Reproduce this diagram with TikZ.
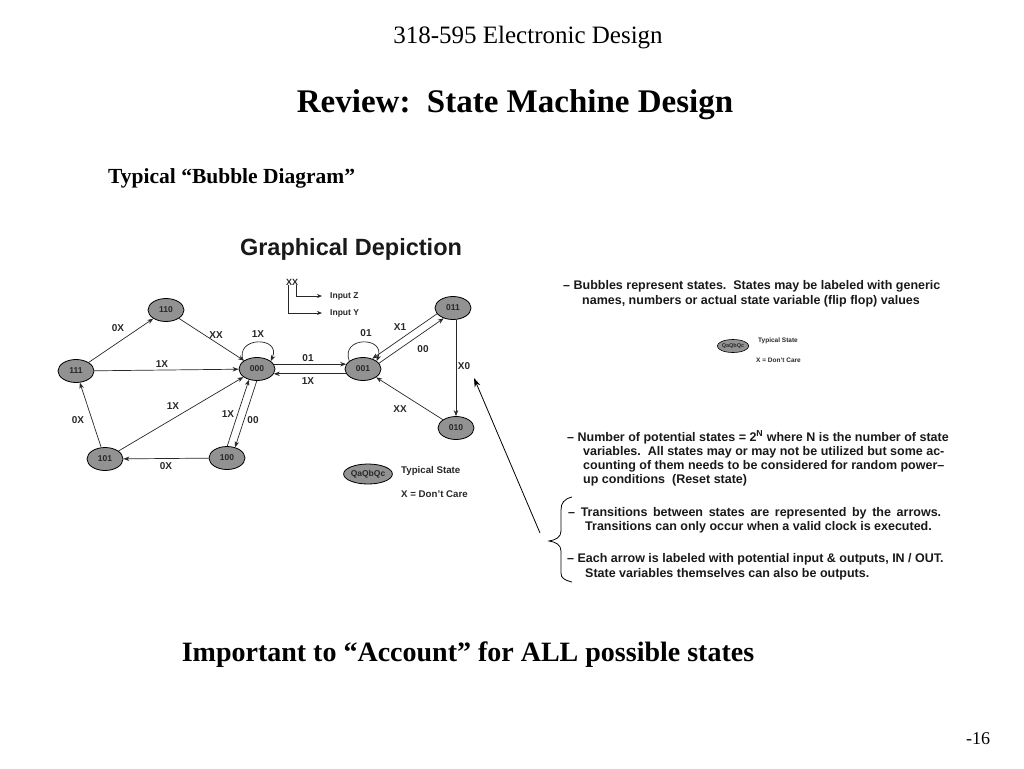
\documentclass[tikz,border=0pt]{standalone}
\usepackage{fontspec}
\setmainfont{Liberation Serif}
\setsansfont{Liberation Sans}
\usetikzlibrary{arrows.meta,calc,shapes.geometric}
\definecolor{bub}{RGB}{146,146,146}
\definecolor{ink}{RGB}{40,40,40}
\begin{document}
\begin{tikzpicture}[x=1pt,y=-1pt,
  state/.style={ellipse, draw=black, line width=0.8pt, fill=bub, minimum width=36pt, minimum height=23pt, inner sep=0pt, text=ink, font=\sffamily\bfseries\fontsize{8.5}{8.5}\selectfont},
  edge/.style={draw=ink, line width=0.7pt, -{Stealth[length=6pt,width=4.5pt]}},
  lab/.style={inner sep=0pt, text=ink, font=\sffamily\bfseries\fontsize{10}{10}\selectfont},
  rt/.style={anchor=base west, inner sep=0pt, text=black!90, font=\sffamily\bfseries\fontsize{12.5}{14}\selectfont},
  legtxt/.style={anchor=west, inner sep=0pt, text=ink, font=\sffamily\bfseries\fontsize{9.7}{10}\selectfont},
  smalltxt/.style={anchor=west, inner sep=0pt, text=ink, font=\sffamily\bfseries\fontsize{6.5}{7}\selectfont}
]
\useasboundingbox[fill=white] (0,0) rectangle (1024,768);

% headings
\node[inner sep=0pt, font=\fontsize{25}{25}\selectfont] (hdr) at (528,38) {318-595 Electronic Design};
\node[inner sep=0pt, font=\bfseries\fontsize{33}{33}\selectfont] (ttl) at (515,105) {Review:\ \ State Machine Design};
\node[inner sep=0pt, anchor=west, font=\bfseries\fontsize{21.5}{22}\selectfont] (typ) at (108,178) {Typical “Bubble Diagram”};
\node[inner sep=0pt, font=\bfseries\fontsize{28}{28}\selectfont] (imp) at (468,655) {Important to “Account” for ALL possible states};
\node[inner sep=0pt, font=\fontsize{18}{18}\selectfont] (pg) at (978,739) {-16};

% graphical depiction title
\node[inner sep=0pt, text=black!90, font=\sffamily\bfseries\fontsize{23.5}{24}\selectfont] (gd) at (351,249) {Graphical Depiction};

% input legend
\node[lab, font=\sffamily\bfseries\fontsize{9}{9}\selectfont] (xx) at (292,282) {XX};
\node[legtxt, font=\sffamily\bfseries\fontsize{8.5}{9}\selectfont] (inZ) at (330,296) {Input Z};
\node[legtxt, font=\sffamily\bfseries\fontsize{8.5}{9}\selectfont] (inY) at (330,313) {Input Y};
\draw[ink, line width=0.7pt, -{Stealth[length=5pt,width=4pt]}] ($(xx.south)+(4,0)$) |- ($(inZ.west)+(-8,0)$);
\draw[ink, line width=0.7pt, -{Stealth[length=5pt,width=4pt]}] ($(xx.south)+(-4,0)$) |- ($(inY.west)+(-8,0)$);

% states
\node[state] (n110) at (166,310) {110};
\node[state] (n111) at (76,371) {111};
\node[state] (n000) at (257,369) {000};
\node[state] (n101) at (105,459) {101};
\node[state] (n100) at (227,458) {100};
\node[state] (n001) at (363,369) {001};
\node[state] (n011) at (453,308) {011};
\node[state] (n010) at (456,428) {010};

% transitions
\draw[edge] (n111) -- (n110);
\draw[edge] (n110) -- (n000);
\draw[edge] (n111) -- (n000);
\draw[edge] (n101) -- (n000);
\draw[edge] (n101) -- (n111);
\draw[edge] (n100.89) -- (n000.-127);
\draw[edge] (n000.-91) -- (n100.53);
\draw[edge] (n100) -- (n101);
\draw[edge] (n000.16) -- (n001.164);
\draw[edge] (n001.-164) -- (n000.-16);
\draw[edge] (n011.200) -- (n001.48);
\draw[edge] (n001.20) -- (n011.228);
\draw[edge] (n011.south -| n010.north) -- (n010.north);
\draw[edge] (n010) -- (n001);
\draw[edge] (n000.150) .. controls (234,336) and (282,336) .. (n000.30);
\draw[edge] (n001.150) .. controls (340,336) and (386,336) .. (n001.30);

% transition labels
\node[lab] (l1) at (118,328) {0X};
\node[lab] (l2) at (216,335) {XX};
\node[lab] (l3) at (258,334) {1X};
\node[lab] (l4) at (162,364) {1X};
\node[lab] (l5) at (173,406) {1X};
\node[lab] (l6) at (78,420) {0X};
\node[lab] (l7) at (228,414) {1X};
\node[lab] (l8) at (253,420) {00};
\node[lab] (l9) at (166,466) {0X};
\node[lab] (l10) at (308,358) {01};
\node[lab] (l11) at (308,381) {1X};
\node[lab] (l12) at (366,333) {01};
\node[lab] (l13) at (400,327) {X1};
\node[lab] (l14) at (423,349) {00};
\node[lab] (l15) at (464,366) {X0};
\node[lab] (l16) at (400,409) {XX};

% legend under diagram
\node[state, minimum width=46pt, minimum height=20pt] (leg) at (368,474) {QaQbQc};
\node[legtxt] (legA) at (401,471) {Typical State};
\node[legtxt] (legB) at (401,494) {X = Don't Care};

% right-hand text
\node[rt] (b1a) at (563,289) {– Bubbles represent states.\ \ States may be labeled with generic};
\node[rt] (b1b) at (582,304) {names, numbers or actual state variable (flip flop) values};

\node[state, minimum width=31pt, minimum height=13pt, line width=0.6pt, font=\sffamily\bfseries\fontsize{5.5}{6}\selectfont] (leg2) at (733,346) {QaQbQc};
\node[smalltxt] (leg2A) at (758,341) {Typical State};
\node[smalltxt] (leg2B) at (756,360) {X = Don't Care};

\node[rt] (b2a) at (567,441) {– Number of potential states = 2\textsuperscript{N} where N is the number of state};
\node[rt] (b2b) at (583,455) {variables.\ \ All states may or may not be utilized but some ac-};
\node[rt] (b2c) at (583,469) {counting of them needs to be considered for random power–};
\node[rt] (b2d) at (583,483) {up conditions\ \ (Reset state)};

\node[rt] (b3a) at (568,516) {\makebox[373pt][s]{– Transitions between states are represented by the arrows.}};
\node[rt] (b3b) at (585,530) {Transitions can only occur when a valid clock is executed.};

\node[rt] (b4a) at (567,562) {– Each arrow is labeled with potential input \& outputs, IN / OUT.};
\node[rt] (b4b) at (585,577) {State variables themselves can also be outputs.};

% brace and pointer
\draw[black, line width=0.8pt] (572,497) .. controls (564,499) and (561,503) .. (561,510) -- (561,531) .. controls (561,537) and (556,540) .. (549,541) .. controls (556,542) and (561,545) .. (561,551) -- (561,573) .. controls (561,578) and (564,580) .. (572,582);
\coordinate (ptrS) at (540,533);
\coordinate (ptrE) at (474,378);
\draw[black, line width=0.8pt, -{Stealth[length=9pt,width=6pt]}] (ptrS) -- (ptrE);
\end{tikzpicture}
\end{document}
